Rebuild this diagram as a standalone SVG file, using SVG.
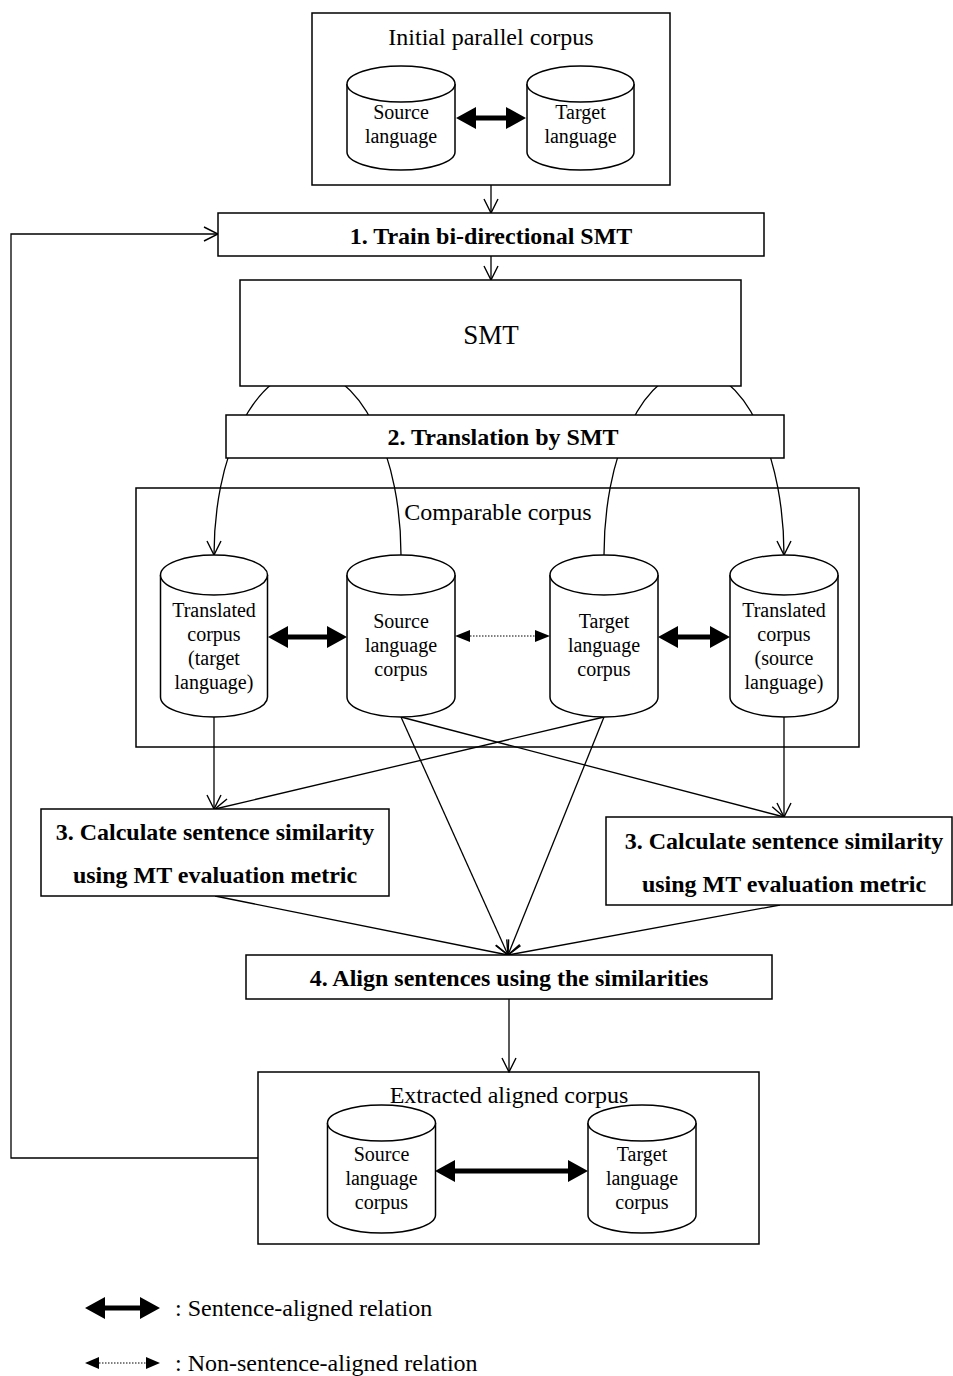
<svg xmlns="http://www.w3.org/2000/svg" width="953" height="1376" viewBox="0 0 953 1376">
<style>
.box{fill:#fff;stroke:#000;stroke-width:1.5}
.cyl{fill:#fff;stroke:#000;stroke-width:1.5}
.ln{fill:none;stroke:#000;stroke-width:1.3}
.t{font-family:"Liberation Serif","Times New Roman",serif;fill:#000;text-anchor:middle}
.title{font-size:24px}
.ct{font-size:20px}
.b{font-size:24px;font-weight:bold}
.thick{fill:#000}
.dot{stroke:#000;stroke-width:1;stroke-dasharray:1.5,1.5}
.leg{font-family:"Liberation Serif","Times New Roman",serif;font-size:24px;fill:#000}
</style>
<defs>
<marker id="open" viewBox="0 0 16 16" refX="15" refY="8" markerWidth="16" markerHeight="16" markerUnits="userSpaceOnUse" orient="auto">
<path d="M1,1 L15,8 L1,15" fill="none" stroke="#000" stroke-width="1.4"/>
</marker>
</defs>

<!-- containers -->
<g id="initial-corpus">
<rect class="box" x="312" y="13" width="358" height="172"/>
<text class="t title" x="491" y="45">Initial parallel corpus</text>
</g>
<g id="comparable-corpus">
<rect class="box" x="136" y="488" width="723" height="259"/>
<text class="t title" x="498" y="520">Comparable corpus</text>
</g>
<g id="extracted-corpus">
<rect class="box" x="258" y="1072" width="501" height="172"/>
</g>

<!-- connectors -->
<g id="connectors">
<path class="ln" d="M401,555 A93.5,185 0 0 0 214,555" marker-end="url(#open)"/>
<path class="ln" d="M604,555 A90,185 0 0 1 784,555" marker-end="url(#open)"/>
<line class="ln" x1="491" y1="185" x2="491" y2="213" marker-end="url(#open)"/>
<line class="ln" x1="491" y1="256" x2="491" y2="280" marker-end="url(#open)"/>
<path class="ln" d="M258,1158 H11 V234 H218" marker-end="url(#open)"/>
<line class="ln" x1="214" y1="717" x2="214" y2="809" marker-end="url(#open)"/>
<line class="ln" x1="604" y1="717" x2="215" y2="809" marker-end="url(#open)"/>
<line class="ln" x1="401" y1="717" x2="784" y2="817" marker-end="url(#open)"/>
<line class="ln" x1="784" y1="717" x2="784" y2="817" marker-end="url(#open)"/>
<line class="ln" x1="401" y1="717" x2="508" y2="955" marker-end="url(#open)"/>
<line class="ln" x1="604" y1="717" x2="508" y2="955" marker-end="url(#open)"/>
<line class="ln" x1="215" y1="896" x2="508" y2="955" marker-end="url(#open)"/>
<line class="ln" x1="780" y1="905" x2="508" y2="955" marker-end="url(#open)"/>
<line class="ln" x1="509" y1="999" x2="509" y2="1072" marker-end="url(#open)"/>
<!-- relation arrows -->
<path class="thick" d="M456,118 L476,107 L476,115.5 L506,115.5 L506,107 L526,118 L506,129 L506,120.5 L476,120.5 L476,129 Z"/>
<path class="thick" d="M268,637 L288,626 L288,634.5 L327,634.5 L327,626 L347,637 L327,648 L327,639.5 L288,639.5 L288,648 Z"/>
<path class="thick" d="M658,637 L678,626 L678,634.5 L710,634.5 L710,626 L730,637 L710,648 L710,639.5 L678,639.5 L678,648 Z"/>
<path class="thick" d="M435,1171 L455,1160 L455,1168.5 L568,1168.5 L568,1160 L588,1171 L568,1182 L568,1173.5 L455,1173.5 L455,1182 Z"/>
<line class="dot" x1="470" y1="636" x2="535" y2="636"/>
<path class="thick" d="M455,636 L470,630 L470,642 Z"/>
<path class="thick" d="M550,636 L535,630 L535,642 Z"/>
</g>

<!-- top cylinders -->
<g id="cyl-source">
<path class="cyl" d="M347,84 A54,18 0 0 1 455,84 V152 A54,18 0 0 1 347,152 Z"/>
<path class="cyl" d="M347,84 A54,18 0 0 0 455,84"/>
<text class="t ct" x="401" y="119">Source</text>
<text class="t ct" x="401" y="143">language</text>
</g>
<g id="cyl-target">
<path class="cyl" d="M527,84 A53.5,18 0 0 1 634,84 V152 A53.5,18 0 0 1 527,152 Z"/>
<path class="cyl" d="M527,84 A53.5,18 0 0 0 634,84"/>
<text class="t ct" x="580.5" y="119">Target</text>
<text class="t ct" x="580.5" y="143">language</text>
</g>

<!-- process boxes -->
<g id="step1">
<rect class="box" x="218" y="213" width="546" height="43"/>
<text class="t b" x="491" y="244">1. Train bi-directional SMT</text>
</g>
<g id="smt">
<rect class="box" x="240" y="280" width="501" height="106"/>
<text class="t" x="491" y="344" style="font-size:27px">SMT</text>
</g>
<g id="step2">
<rect class="box" x="226" y="415" width="558" height="43"/>
<text class="t b" x="503" y="445">2. Translation by SMT</text>
</g>

<!-- comparable cylinders -->
<g id="cyl-translated-target">
<path class="cyl" d="M160.5,575 A53.5,20 0 0 1 267.5,575 V697 A53.5,20 0 0 1 160.5,697 Z"/>
<path class="cyl" d="M160.5,575 A53.5,20 0 0 0 267.5,575"/>
<text class="t ct" x="214" y="617">Translated</text>
<text class="t ct" x="214" y="641">corpus</text>
<text class="t ct" x="214" y="665">(target</text>
<text class="t ct" x="214" y="689">language)</text>
</g>
<g id="cyl-source-corpus">
<path class="cyl" d="M347,575 A54,20 0 0 1 455,575 V697 A54,20 0 0 1 347,697 Z"/>
<path class="cyl" d="M347,575 A54,20 0 0 0 455,575"/>
<text class="t ct" x="401" y="628">Source</text>
<text class="t ct" x="401" y="652">language</text>
<text class="t ct" x="401" y="676">corpus</text>
</g>
<g id="cyl-target-corpus">
<path class="cyl" d="M550,575 A54,20 0 0 1 658,575 V697 A54,20 0 0 1 550,697 Z"/>
<path class="cyl" d="M550,575 A54,20 0 0 0 658,575"/>
<text class="t ct" x="604" y="628">Target</text>
<text class="t ct" x="604" y="652">language</text>
<text class="t ct" x="604" y="676">corpus</text>
</g>
<g id="cyl-translated-source">
<path class="cyl" d="M730,575 A54,20 0 0 1 838,575 V697 A54,20 0 0 1 730,697 Z"/>
<path class="cyl" d="M730,575 A54,20 0 0 0 838,575"/>
<text class="t ct" x="784" y="617">Translated</text>
<text class="t ct" x="784" y="641">corpus</text>
<text class="t ct" x="784" y="665">(source</text>
<text class="t ct" x="784" y="689">language)</text>
</g>

<!-- step 3 and 4 -->
<g id="step3-left">
<rect class="box" x="41" y="809" width="348" height="87"/>
<text class="t b" x="215" y="840">3. Calculate sentence similarity</text>
<text class="t b" x="215" y="883">using MT evaluation metric</text>
</g>
<g id="step3-right">
<rect class="box" x="606" y="817" width="346" height="88"/>
<text class="t b" x="784" y="849">3. Calculate sentence similarity</text>
<text class="t b" x="784" y="892">using MT evaluation metric</text>
</g>
<g id="step4">
<rect class="box" x="246" y="955" width="526" height="44"/>
<text class="t b" x="509" y="986">4. Align sentences using the similarities</text>
</g>

<!-- bottom cylinders -->
<g id="cyl-out-source">
<path class="cyl" d="M327.5,1123 A54,18 0 0 1 435.5,1123 V1215 A54,18 0 0 1 327.5,1215 Z"/>
<path class="cyl" d="M327.5,1123 A54,18 0 0 0 435.5,1123"/>
<text class="t ct" x="381.5" y="1161">Source</text>
<text class="t ct" x="381.5" y="1185">language</text>
<text class="t ct" x="381.5" y="1209">corpus</text>
</g>
<g id="cyl-out-target">
<path class="cyl" d="M588,1123 A54,18 0 0 1 696,1123 V1215 A54,18 0 0 1 588,1215 Z"/>
<path class="cyl" d="M588,1123 A54,18 0 0 0 696,1123"/>
<text class="t ct" x="642" y="1161">Target</text>
<text class="t ct" x="642" y="1185">language</text>
<text class="t ct" x="642" y="1209">corpus</text>
</g>
<text class="t title" x="509" y="1103">Extracted aligned corpus</text>

<!-- legend -->
<g id="legend">
<path class="thick" d="M85,1308 L105,1297 L105,1305.5 L140,1305.5 L140,1297 L160,1308 L140,1319 L140,1310.5 L105,1310.5 L105,1319 Z"/>
<text class="leg" x="175" y="1316">: Sentence-aligned relation</text>
<line class="dot" x1="99" y1="1363" x2="147" y2="1363"/>
<path class="thick" d="M85,1363 L99,1357 L99,1369 Z"/>
<path class="thick" d="M160,1363 L146,1357 L146,1369 Z"/>
<text class="leg" x="175" y="1371">: Non-sentence-aligned relation</text>
</g>
</svg>
